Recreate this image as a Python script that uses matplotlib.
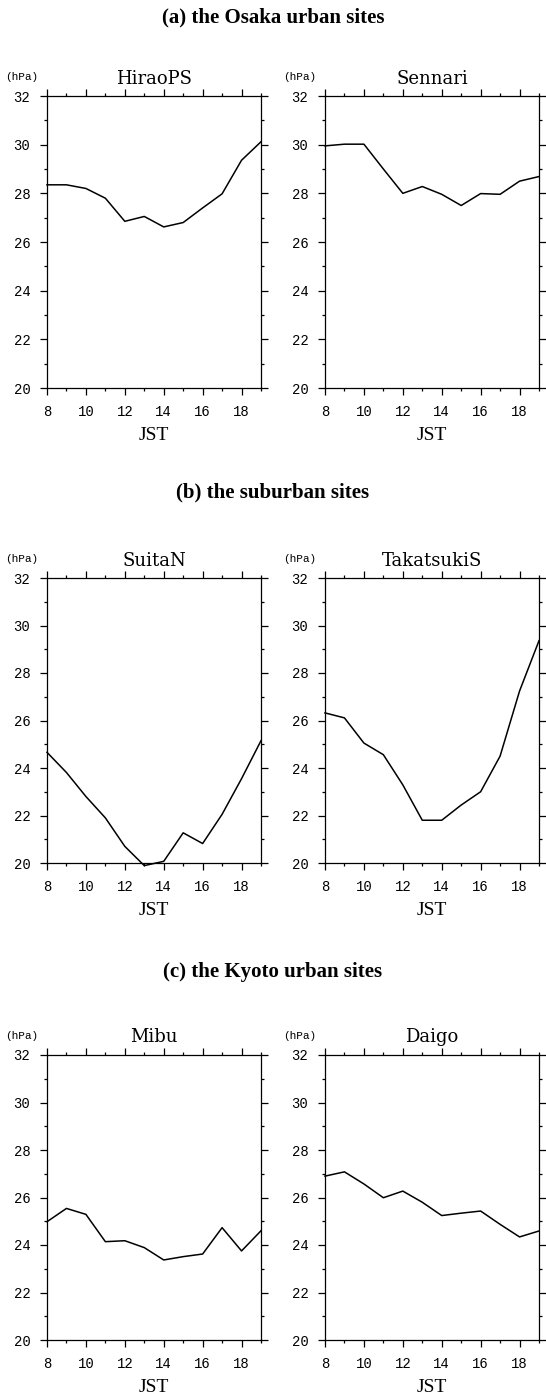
import numpy as np
import matplotlib
matplotlib.use('Agg')
import matplotlib.pyplot as plt
from matplotlib.ticker import MultipleLocator

hours = [8, 9, 10, 11, 12, 13, 14, 15, 16, 17, 18, 19]

hiraops = [28.35, 28.35, 28.2, 27.8, 26.85, 27.05, 26.62, 26.8, 27.4, 27.98, 29.36, 30.12]
sennari = [29.95, 30.02, 30.02, 29.0, 28.0, 28.28, 27.96, 27.5, 27.99, 27.96, 28.5, 28.69]
suitan = [24.66, 23.81, 22.8, 21.9, 20.7, 19.89, 20.07, 21.27, 20.82, 22.05, 23.55, 25.15]
takatsukis = [26.32, 26.11, 25.05, 24.56, 23.29, 21.8, 21.8, 22.44, 23.0, 24.5, 27.24, 29.36]
mibu = [24.98, 25.54, 25.29, 24.14, 24.18, 23.89, 23.37, 23.51, 23.62, 24.73, 23.75, 24.6]
daigo = [26.9, 27.08, 26.57, 25.99, 26.27, 25.8, 25.24, 25.34, 25.43, 24.87, 24.34, 24.59]

sections = ['(a) the Osaka urban sites', '(b) the suburban sites', '(c) the Kyoto urban sites']
site_names = [['HiraoPS', 'Sennari'], ['SuitaN', 'TakatsukiS'], ['Mibu', 'Daigo']]
site_data = [[hiraops, sennari], [suitan, takatsukis], [mibu, daigo]]

W, H = 546, 1397
mono = 'Liberation Mono'
serif = 'Liberation Serif'

fig = plt.figure(figsize=(W / 100, H / 100), dpi=100)

# pixel layout of each row: (axes top, axes bottom, header y)
rows = [(96, 388, 17), (578, 863, 492), (1055, 1340, 972)]
cols = [(47, 261), (325, 539)]


def px_axes(x0, x1, y0, y1):
    return fig.add_axes([x0 / W, 1 - y1 / H, (x1 - x0) / W, (y1 - y0) / H])


for r, (top, bot, hy) in enumerate(rows):
    fig.text(0.5, 1 - hy / H, sections[r], ha='center', va='center',
             fontsize=15, fontweight='bold', family=serif)
    for c, (x0, x1) in enumerate(cols):
        ax = px_axes(x0, x1, top, bot)
        ax.plot(hours, site_data[r][c], color='black', lw=1.1, clip_on=False)
        ax.set_xlim(8, 19)
        ax.set_ylim(20, 32)
        ax.xaxis.set_major_locator(MultipleLocator(2))
        ax.xaxis.set_minor_locator(MultipleLocator(1))
        ax.yaxis.set_major_locator(MultipleLocator(2))
        ax.yaxis.set_minor_locator(MultipleLocator(1))
        ax.tick_params(which='both', direction='out', top=True, right=True,
                       color='black', width=0.9)
        ax.tick_params(which='major', length=5, labelsize=10, pad=7)
        ax.tick_params(which='minor', length=2.5)
        for lab in ax.get_xticklabels() + ax.get_yticklabels():
            lab.set_family(mono)
        for s in ax.spines.values():
            s.set_linewidth(0.9)
        ax.set_title(site_names[r][c], fontsize=13, family='DejaVu Serif', pad=9)
        ax.text(-0.12, 1.065, '(hPa)', transform=ax.transAxes, fontsize=8,
                family=mono, ha='center', va='center')
        ax.set_xlabel('JST', fontsize=14, family=serif, labelpad=6)

fig.savefig('out.png', dpi=100, facecolor='white')
